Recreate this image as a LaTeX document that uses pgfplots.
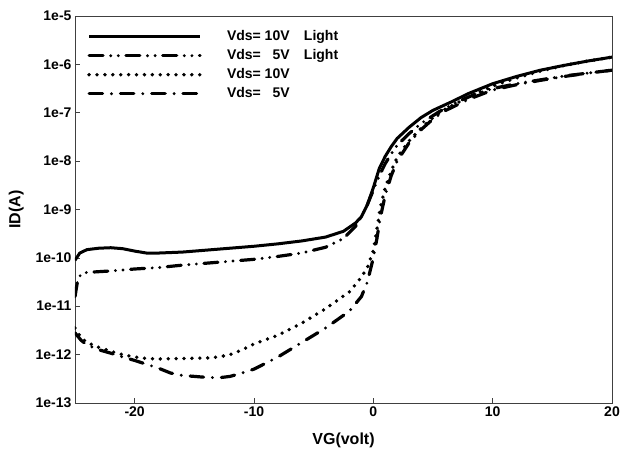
\documentclass[border=0pt]{standalone}
\usepackage{pgfplots}
\pgfplotsset{compat=1.18}
\usepackage{fontspec}
\setmainfont{Liberation Sans}
\begin{document}
\begin{tikzpicture}
\begin{axis}[
    name=ax,
    scale only axis,
    width=537pt, height=387pt,
    xmin=-25, xmax=20, ymin=-13, ymax=-5,
    xtick={-20,-10,0,10,20},
    xticklabels={-20,-10,0,10,20},
    ytick={-13,-12,-11,-10,-9,-8,-7,-6,-5},
    yticklabels={1e-13,1e-12,1e-11,1e-10,1e-9,1e-8,1e-7,1e-6,1e-5},
    xtick pos=lower, ytick pos=left,
    tick align=inside, major tick length=5pt,
    tick style={black!75, line width=0.7pt},
    tick label style={font=\bfseries\fontsize{14}{16}\selectfont},
    axis line style={black!75, line width=0.8pt},
    xlabel={VG(volt)}, ylabel={ID(A)},
    label style={font=\bfseries\fontsize{16}{18}\selectfont},
    xlabel style={yshift=-10pt},
    ylabel style={yshift=5pt},
    legend style={at={(axis description cs:0,1)}, anchor=north west,
        xshift=9pt, yshift=-11pt, draw=none, fill=none,
        font=\bfseries\fontsize{14}{16}\selectfont,
        nodes={inner sep=1pt, text height=10pt, text depth=3pt},
        row sep=4pt, column sep=24pt},
    legend cell align=left,
    legend image code/.code={\draw[#1] (0pt,0pt) -- (111pt,0pt);},
    every axis plot/.append style={black, line join=round},
]
% Vds = 10V, light
\addplot[solid, line width=3pt] coordinates {
 (-25,-10.05) (-24.6,-9.9) (-24,-9.83) (-23,-9.8) (-22,-9.79) (-21,-9.81)
 (-20,-9.86) (-19,-9.9) (-18,-9.9) (-16,-9.88) (-14,-9.84) (-12,-9.8)
 (-10,-9.76) (-8,-9.71) (-6,-9.65) (-4,-9.57) (-2.5,-9.45) (-1.5,-9.28)
 (-1,-9.15) (-0.5,-8.9) (0,-8.55) (0.5,-8.15) (1,-7.9) (1.5,-7.7)
 (2,-7.53) (3,-7.3) (4,-7.1) (5,-6.95) (6.5,-6.78) (8,-6.6) (10,-6.4)
 (12,-6.25) (14,-6.12) (16,-6.02) (18,-5.93) (20,-5.85)
};
% Vds = 5V, light
\addplot[line width=3.2pt, line cap=round,
    dash pattern=on 14pt off 7.6pt on 0pt off 7.6pt on 0pt off 7.6pt] coordinates {
 (-25,-10.8) (-24.8,-10.5) (-24.5,-10.33) (-24,-10.3) (-22,-10.27)
 (-20,-10.23) (-18,-10.2) (-16,-10.15) (-14,-10.11) (-12,-10.07)
 (-10,-10.03) (-8,-9.97) (-6,-9.9) (-4,-9.78) (-2.5,-9.6) (-1.5,-9.35)
 (-1,-9.15) (-0.5,-8.9) (0,-8.6) (0.5,-8.3) (1,-8.05) (1.5,-7.85)
 (2,-7.67) (3,-7.43) (4,-7.22) (5.5,-6.98) (7,-6.78) (8.5,-6.62)
 (10,-6.5) (12,-6.4) (14,-6.32) (16,-6.24) (18,-6.18) (20,-6.12)
};
% Vds = 10V, dark
\addplot[line width=3.8pt, line cap=round, dash pattern=on 0pt off 7.9pt] coordinates {
 (-25,-11.45) (-24.5,-11.65) (-24,-11.75) (-23,-11.85) (-22,-11.93)
 (-21,-12.0) (-20,-12.05) (-19,-12.08) (-18,-12.09) (-16,-12.08)
 (-14,-12.07) (-13,-12.05) (-12,-12.0) (-11,-11.9) (-10,-11.78)
 (-8,-11.6) (-6,-11.35) (-4,-11.05) (-2,-10.7) (-1,-10.4) (-0.5,-10.2)
 (0,-9.85) (0.3,-9.4) (0.6,-8.95) (1,-8.55) (1.5,-8.2) (2,-7.92)
 (3,-7.58) (4,-7.32) (5,-7.1) (6,-6.93) (8,-6.67) (10,-6.45)
 (12,-6.28) (14,-6.14) (16,-6.02) (18,-5.93) (20,-5.85)
};
% Vds = 5V, dark
\addplot[line width=3.2pt, line cap=round,
    dash pattern=on 13.5pt off 8.9pt on 0pt off 8.9pt] coordinates {
 (-25,-11.55) (-24.5,-11.7) (-24,-11.8) (-23,-11.9) (-22,-11.97)
 (-21,-12.05) (-20,-12.12) (-19,-12.2) (-18,-12.28) (-17,-12.38)
 (-16,-12.43) (-15,-12.45) (-14,-12.47) (-13,-12.48) (-12,-12.45)
 (-11,-12.38) (-10,-12.3) (-8,-12.05) (-6,-11.75) (-4,-11.45)
 (-2,-11.1) (-1,-10.8) (-0.5,-10.5) (0,-10.0) (0.3,-9.6) (0.6,-9.15)
 (1,-8.7) (1.5,-8.3) (2,-8.0) (3,-7.62) (4,-7.35) (5,-7.13) (6,-6.96)
 (8,-6.72) (10,-6.53) (12,-6.42) (14,-6.33) (16,-6.25) (18,-6.18) (20,-6.12)
};
\legend{\makebox[77pt][l]{Vds= 10V}Light,
        \makebox[77pt][l]{Vds= \phantom{1}5V}Light,
        Vds= 10V,
        Vds= \phantom{1}5V}
\end{axis}
\pgfresetboundingbox
\path ([shift={(-75pt,-45pt)}]ax.south west) rectangle ([shift={(9pt,16pt)}]ax.north east);
\end{tikzpicture}
\end{document}
